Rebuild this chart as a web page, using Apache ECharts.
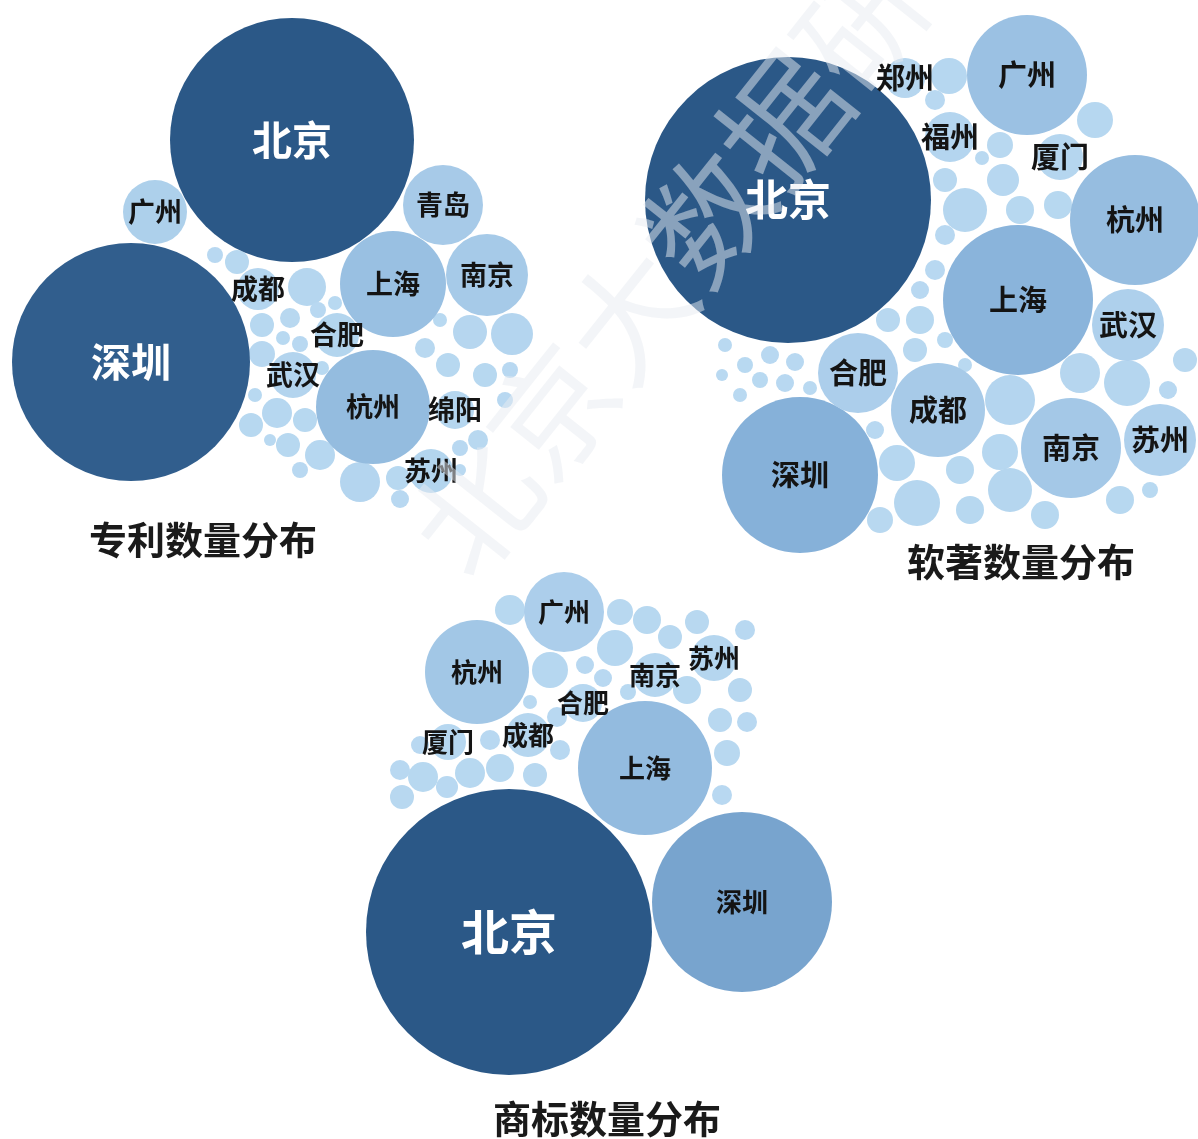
<!DOCTYPE html>
<html>
<head>
<meta charset="utf-8">
<script src="https://cdn.jsdelivr.net/npm/echarts@6/dist/echarts.min.js"></script>
<style>
  html, body { margin: 0; padding: 0; background: #ffffff; }
  #main { width: 1198px; height: 1139px; }
</style>
</head>
<body>
<div id="main"></div>
<script>
// ---- 专利数量分布 (patents): city, layout position, count ----
const patentCity  = ['北京','深圳','上海','杭州','青岛','南京','广州','成都','合肥','武汉','绵阳','苏州',
                     '','','','','','','','','','','','','','','','','','','','','','','','',
                     '','','','','','','','',''];
const patentX     = [292,131,393,373,443,487,155,258,337,293,455,431,
                     307,237,215,290,262,262,300,318,277,251,305,320,288,360,398,512,470,448,425,485,478,460,510,322,400,
                     283,335,300,270,255,440,505,460,248];
const patentY     = [140,362,284,407,205,275,212,289,335,375,410,471,
                     287,262,255,318,325,354,344,310,413,425,420,455,445,482,478,334,332,365,348,375,440,448,370,368,499,
                     338,303,470,440,395,320,400,470,240];
const patentCount = [14884,14161,2809,3249,1600,1681,1024,441,484,529,361,484,
                     361,144,64,100,144,169,64,64,225,144,144,225,144,400,144,441,289,144,100,144,100,64,64,49,81,
                     49,49,64,36,49,49,64,36,25];

// ---- 软著数量分布 (software copyrights) ----
const softCity  = ['北京','上海','深圳','杭州','广州','南京','成都','合肥','武汉','苏州','郑州','福州','厦门',
                   '','','','','','','','','','','','','','','','','','','','','','','','','','','','','',
                   '','','','','','','','','','','','','',''];
const softX     = [188,418,200,535,427,471,338,258,528,560,305,350,460,
                   365,403,420,458,495,335,345,345,320,315,288,410,480,527,400,410,317,297,280,360,370,170,195,210,185,160,145,520,335,349,400,445,
                   382,320,345,365,125,140,122,275,568,585,550,343,258,155];
const softY     = [200,300,475,220,75,448,410,373,325,440,78,137,157,
                   210,180,210,205,120,270,235,180,320,350,320,400,373,383,452,490,503,463,520,470,510,355,362,388,383,380,365,500,100,76,145,515,
                   158,290,340,365,345,395,375,430,390,360,490,532,545,410];
const softCount = [20449,5625,6084,4225,3600,2500,2209,1600,1296,1296,400,625,529,
                   484,256,196,196,324,100,100,144,196,144,144,625,400,529,324,484,529,324,169,196,196,81,81,49,81,64,64,196,100,324,169,196,
                   49,81,64,49,49,49,36,81,81,144,64,100,49,36];

// ---- 商标数量分布 (trademarks) ----
const markCity  = ['北京','深圳','上海','杭州','广州','南京','苏州','合肥','成都','厦门',
                   '','','','','','','','','','','','','','','','','','','','','','','',
                   '','','','','',''];
const markX     = [159,392,295,127,214,305,364,233,178,98,
                   160,200,265,270,297,320,337,377,370,390,372,73,120,97,150,185,210,207,70,50,140,253,278,
                   235,180,52,347,395,397];
const markY     = [382,352,218,122,62,125,108,153,185,192,
                   60,120,98,62,70,87,140,203,170,140,245,227,223,237,218,225,200,167,195,220,190,128,142,
                   115,152,247,72,80,172];
const markCount = [20449,8100,4489,2704,1600,484,529,361,484,324,
                   225,324,324,169,196,144,196,169,144,144,100,225,225,121,196,144,100,100,81,100,100,81,64,
                   81,49,144,144,100,100];

// ---- chart titles ----
const titles = ['专利数量分布', '软著数量分布', '商标数量分布'];
const watermark = '北京大数据研究院';

const FONT = '"Noto Sans CJK SC", "Noto Sans", sans-serif';
const ramp = ['#b9d9f1', '#80acd6', '#5580ad', '#2b5887'];

const clusters = [
  { names: patentCity, xs: patentX, ys: patentY, vals: patentCount,
    box: { left: 0, top: 0, width: 600, height: 550 }, bigFont: 40, smallFont: 27,
    title: { x: 203, y: 540 } },
  { names: softCity, xs: softX, ys: softY, vals: softCount,
    box: { left: 600, top: 0, width: 598, height: 600 }, bigFont: 43, smallFont: 29,
    title: { x: 1021, y: 562 } },
  { names: markCity, xs: markX, ys: markY, vals: markCount,
    box: { left: 350, top: 550, width: 550, height: 589 }, bigFont: 48, smallFont: 26,
    title: { x: 607, y: 1119 } }
];

const grids = [], xAxes = [], yAxes = [], series = [], visualMaps = [];

clusters.forEach((c, i) => {
  grids.push({ left: c.box.left, top: c.box.top, width: c.box.width, height: c.box.height, containLabel: false });
  xAxes.push({ type: 'value', gridIndex: i, min: 0, max: c.box.width, show: false });
  yAxes.push({ type: 'value', gridIndex: i, min: 0, max: c.box.height, inverse: true, show: false });

  const maxVal = Math.max.apply(null, c.vals);
  const items = c.names.map((n, k) => {
    const dark = c.vals[k] / maxVal > 0.5;
    return {
      name: n,
      value: [c.xs[k], c.ys[k], c.vals[k]],
      label: {
        color: dark ? '#ffffff' : '#141414',
        fontSize: dark ? c.bigFont : c.smallFont
      }
    };
  });
  // unlabeled bubbles first, labeled cities on top
  items.sort((a, b) => (a.name ? 1 : 0) - (b.name ? 1 : 0));

  series.push({
    type: 'scatter',
    xAxisIndex: i,
    yAxisIndex: i,
    data: items,
    clip: false,
    silent: true,
    symbol: 'circle',
    symbolSize: d => 2 * Math.sqrt(d[2]),
    itemStyle: { opacity: 1, borderWidth: 0 },
    label: {
      show: true,
      position: 'inside',
      formatter: p => p.name,
      fontFamily: FONT,
      fontWeight: 'bold'
    },
    emphasis: { disabled: true }
  });

  visualMaps.push({
    type: 'continuous',
    show: false,
    seriesIndex: i,
    dimension: 2,
    min: 0,
    max: maxVal,
    inRange: { color: ramp }
  });
});

const graphics = clusters.map((c, i) => ({
  type: 'text',
  x: c.title.x,
  y: c.title.y,
  z: 10,
  style: {
    text: titles[i],
    font: 'bold 38px ' + FONT,
    fill: '#1a1a1a',
    textAlign: 'center',
    textVerticalAlign: 'middle'
  }
}));

// diagonal watermark across the upper middle
graphics.push({
  type: 'text',
  x: 745,
  y: 168,
  rotation: 51.5 * Math.PI / 180,
  z: 20,
  style: {
    text: watermark,
    font: 'normal 124px ' + FONT,
    fill: 'rgba(232,235,241,0.5)',
    textAlign: 'center',
    textVerticalAlign: 'middle'
  }
});

const chart = echarts.init(document.getElementById('main'));
chart.setOption({
  animation: false,
  backgroundColor: '#ffffff',
  grid: grids,
  xAxis: xAxes,
  yAxis: yAxes,
  visualMap: visualMaps,
  series: series,
  graphic: graphics
});
</script>
</body>
</html>
